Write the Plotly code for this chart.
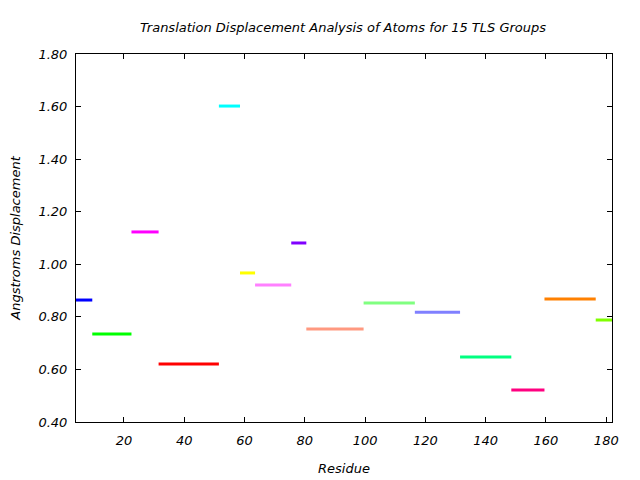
import plotly.graph_objects as go

starts = [3.5, 9.5, 22.5, 31.5, 51.5, 58.5, 63.5, 75.5, 80.5, 99.5, 116.5, 131.5, 148.5, 159.5, 176.5]
ends = [9.5, 22.5, 31.5, 51.5, 58.5, 63.5, 75.5, 80.5, 99.5, 116.5, 131.5, 148.5, 159.5, 176.5, 182.5]
values = [0.864, 0.735, 1.123, 0.621, 1.602, 0.967, 0.921, 1.081, 0.754, 0.853, 0.818, 0.647, 0.522, 0.868, 0.788]
colors = ["#0000ff", "#00ff00", "#ff00ff", "#ff0000", "#00ffff", "#ffff00", "#ff80ff", "#8000ff",
          "#ff9980", "#80ff80", "#8080ff", "#00ff80", "#ff0080", "#ff8000", "#80ff00"]
x_ticks = [20, 40, 60, 80, 100, 120, 140, 160, 180]
y_ticks = [0.4, 0.6, 0.8, 1.0, 1.2, 1.4, 1.6, 1.8]

FAM = "DejaVu Sans"

fig = go.Figure()
for s, e, v, c in zip(starts, ends, values, colors):
    fig.add_trace(go.Scatter(x=[s, e], y=[v, v], mode="lines",
                             line=dict(color=c, width=3), showlegend=False,
                             hoverinfo="skip"))

fig.update_layout(
    width=632, height=472,
    margin=dict(l=68, r=28, t=46, b=58),
    paper_bgcolor="white", plot_bgcolor="white",
    font=dict(family=FAM, size=13, color="#000000", style="italic"),
    title=dict(text="Translation Displacement Analysis of Atoms for 15 TLS Groups",
               x=0.530, xanchor="center", y=0.958, yanchor="middle",
               font=dict(family=FAM, size=13, style="italic")),
    showlegend=False,
)
fig.update_xaxes(range=[4.1, 181.9], tickvals=x_ticks, ticktext=[str(t) for t in x_ticks],
                 ticks="inside", ticklen=5, tickwidth=1, tickcolor="black",
                 showline=True, linecolor="black", linewidth=1, mirror="ticks",
                 showgrid=False, zeroline=False, ticklabelstandoff=6, automargin=False,
                 tickfont=dict(family=FAM, size=13, style="italic"),
                 title=dict(text="Residue", standoff=17,
                            font=dict(family=FAM, size=13, style="italic")))
fig.update_yaxes(range=[0.4, 1.8], tickvals=y_ticks, ticktext=[f"{t:.2f}" for t in y_ticks],
                 ticks="inside", ticklen=5, tickwidth=1, tickcolor="black",
                 showline=True, linecolor="black", linewidth=1, mirror="ticks",
                 showgrid=False, zeroline=False, ticklabelstandoff=5, automargin=False,
                 tickfont=dict(family=FAM, size=13, style="italic"),
                 title=dict(text="Angstroms Displacement", standoff=15,
                            font=dict(family=FAM, size=13, style="italic")))

fig.write_html("out.html")
